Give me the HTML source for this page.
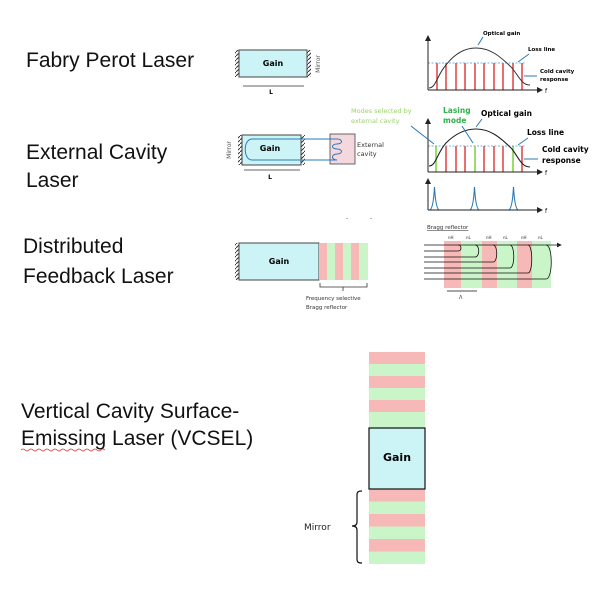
<!DOCTYPE html>
<html><head><meta charset="utf-8"><style>
body{margin:0;background:#fff;}
svg{display:block;}
.t{font-family:"Liberation Sans",sans-serif;font-size:21px;fill:#111;}
.s{font-family:"DejaVu Sans","Liberation Sans",sans-serif;}
</style></head><body>
<svg width="614" height="590" viewBox="0 0 614 590" xmlns="http://www.w3.org/2000/svg">
<defs>
<pattern id="h" width="4" height="4" patternUnits="userSpaceOnUse"><path d="M0 4L4 0" stroke="#333" stroke-width="1"/></pattern>
<marker id="a" markerWidth="6" markerHeight="6" refX="5" refY="3" orient="auto"><path d="M0 0L6 3L0 6z" fill="#222"/></marker>
</defs>
<text class="t" x="26" y="67">Fabry Perot Laser</text>
<text class="t" x="26" y="159">External Cavity</text>
<text class="t" x="26" y="187">Laser</text>
<text class="t" x="23" y="253">Distributed</text>
<text class="t" x="23" y="283">Feedback Laser</text>
<text class="t" x="21" y="418">Vertical Cavity Surface-</text>
<text class="t" x="21" y="445">Emissing Laser (VCSEL)</text>
<path d="M21 450q2-2 4 0t4 0t4 0t4 0t4 0t4 0t4 0t4 0t4 0t4 0t4 0t4 0t4 0t4 0t4 0t4 0t4 0t4 0t4 0t4 0t4 0" stroke="#d33" fill="none" stroke-width="0.8"/>

<!-- FP -->
<rect x="235" y="50" width="4" height="27" fill="url(#h)"/>
<rect x="307" y="50" width="4" height="27" fill="url(#h)"/>
<rect x="239" y="50" width="68" height="27" fill="#ccf4f6" stroke="#444"/>
<text class="s" x="273" y="66" font-size="8" font-weight="bold" text-anchor="middle">Gain</text>
<text class="s" x="320" y="64" font-size="6" fill="#555" transform="rotate(-90 320 64)" text-anchor="middle">Mirror</text>
<line x1="243" y1="86" x2="304" y2="86" stroke="#333" stroke-width="0.8"/>
<text class="s" x="271" y="94" font-size="6" font-weight="bold" text-anchor="middle">L</text>

<!-- graph 1 -->
<g stroke="#d22" stroke-width="1.3">
<line x1="437" y1="63" x2="437" y2="90"/><line x1="446" y1="63" x2="446" y2="90"/><line x1="456" y1="63" x2="456" y2="90"/><line x1="465" y1="63" x2="465" y2="90"/><line x1="475" y1="63" x2="475" y2="90"/><line x1="484" y1="63" x2="484" y2="90"/><line x1="494" y1="63" x2="494" y2="90"/><line x1="503" y1="63" x2="503" y2="90"/><line x1="513" y1="63" x2="513" y2="90"/><line x1="522" y1="63" x2="522" y2="90"/>
</g>
<line x1="428" y1="63" x2="525" y2="63" stroke="#4a9ad8" stroke-dasharray="2,1.5" stroke-width="0.8"/>
<path d="M429 88C436 88 437 75 446 65C456 52 466 48 476 48C490 48 500 56 512 68C520 78 522 85 530 85" stroke="#333" fill="none" stroke-width="1"/>
<line x1="428" y1="90" x2="428" y2="36" stroke="#222" marker-end="url(#a)"/>
<line x1="428" y1="90" x2="542" y2="90" stroke="#222" marker-end="url(#a)"/>
<text class="s" x="545" y="93" font-size="6">f</text>
<text class="s" x="483" y="35" font-size="5.5" font-weight="bold">Optical gain</text>
<line x1="483" y1="37" x2="478" y2="45" stroke="#2a7ab8"/>
<text class="s" x="528" y="51" font-size="5.5" font-weight="bold">Loss line</text>
<line x1="529" y1="54" x2="518" y2="62" stroke="#2a7ab8"/>
<text class="s" x="540" y="73" font-size="5.5" font-weight="bold">Cold cavity</text>
<text class="s" x="540" y="81" font-size="5.5" font-weight="bold">response</text>
<line x1="537" y1="76" x2="524" y2="76" stroke="#2a7ab8"/>

<!-- ECL -->
<rect x="238" y="135" width="4" height="30" fill="url(#h)"/>
<rect x="301" y="135" width="4" height="30" fill="url(#h)"/>
<rect x="242" y="135" width="59" height="30" fill="#ccf4f6" stroke="#444"/>
<rect x="330" y="134" width="25" height="30" fill="#f5d8dd" stroke="#444" stroke-width="0.8"/>
<path d="M305 139H252C243 139 243 160 252 160H305M305 139H337M305 160H337M337 139c6 0 6 5 0 5c-6 0-6 5 0 5c6 0 6 5 0 5c-6 0-6 6 0 6" stroke="#2a7ab8" fill="none" stroke-width="1"/>
<text class="s" x="270" y="151" font-size="8" font-weight="bold" text-anchor="middle">Gain</text>
<text class="s" x="357" y="147" font-size="6.5" fill="#333">External</text>
<text class="s" x="357" y="156" font-size="6.5" fill="#333">cavity</text>
<text class="s" x="231" y="150" font-size="6" fill="#555" transform="rotate(-90 231 150)" text-anchor="middle">Mirror</text>
<line x1="244" y1="170" x2="300" y2="170" stroke="#333" stroke-width="0.8"/>
<text class="s" x="270" y="179" font-size="6" font-weight="bold" text-anchor="middle">L</text>

<!-- graph 2 -->
<g stroke="#d22" stroke-width="1.3">
<line x1="446" y1="146" x2="446" y2="172"/><line x1="456" y1="146" x2="456" y2="172"/><line x1="465" y1="146" x2="465" y2="172"/><line x1="484" y1="146" x2="484" y2="172"/><line x1="494" y1="146" x2="494" y2="172"/><line x1="503" y1="146" x2="503" y2="172"/><line x1="522" y1="146" x2="522" y2="172"/>
</g>
<g stroke="#7ccf3a" stroke-width="1.5">
<line x1="436" y1="146" x2="436" y2="172"/><line x1="475" y1="146" x2="475" y2="172"/><line x1="513" y1="146" x2="513" y2="172"/>
</g>
<line x1="428" y1="146" x2="525" y2="146" stroke="#4a9ad8" stroke-dasharray="2,1.5" stroke-width="0.8"/>
<path d="M429 166C436 166 437 153 446 143C456 133 466 129 476 129C490 129 500 137 512 149C520 160 522 167 530 167" stroke="#222" fill="none" stroke-width="1.1"/>
<line x1="428" y1="172" x2="428" y2="119" stroke="#222" marker-end="url(#a)"/>
<line x1="428" y1="172" x2="542" y2="172" stroke="#222" marker-end="url(#a)"/>
<text class="s" x="545" y="175" font-size="6">f</text>
<text class="s" x="351" y="113" font-size="6.5" fill="#9ad36a">Modes selected by</text>
<text class="s" x="351" y="123" font-size="6.5" fill="#9ad36a">external cavity</text>
<line x1="411" y1="126" x2="434" y2="144" stroke="#2a7ab8"/>
<text class="s" x="443" y="113" font-size="7.5" font-weight="bold" fill="#2fb24a">Lasing</text>
<text class="s" x="443" y="123" font-size="7.5" font-weight="bold" fill="#2fb24a">mode</text>
<line x1="462" y1="126" x2="473" y2="143" stroke="#2a7ab8"/>
<text class="s" x="481" y="116" font-size="7.5" font-weight="bold">Optical gain</text>
<line x1="482" y1="119" x2="476" y2="127" stroke="#2a7ab8"/>
<text class="s" x="527" y="135" font-size="7.5" font-weight="bold">Loss line</text>
<line x1="528" y1="138" x2="518" y2="145" stroke="#2a7ab8"/>
<text class="s" x="542" y="152" font-size="7.5" font-weight="bold">Cold cavity</text>
<text class="s" x="542" y="163" font-size="7.5" font-weight="bold">response</text>
<line x1="538" y1="159" x2="524" y2="159" stroke="#2a7ab8"/>

<!-- graph 3 -->
<path d="M430 210C433 208 434 196 434.5 187C435 196 436 208 439 210M470 210C473 208 474 196 474.5 187C475 196 476 208 479 210M509 210C512 208 513 196 513.5 187C514 196 515 208 518 210" stroke="#2a7ab8" fill="none" stroke-width="1.1"/>
<line x1="428" y1="210" x2="428" y2="179" stroke="#222" marker-end="url(#a)"/>
<line x1="428" y1="210" x2="542" y2="210" stroke="#222" marker-end="url(#a)"/>
<text class="s" x="545" y="213" font-size="6">f</text>
<text x="346" y="220" font-size="6" fill="#333">-</text><text x="370" y="220" font-size="6" fill="#333">-</text>

<!-- DFB -->
<rect x="235" y="243" width="4" height="37" fill="url(#h)"/>
<rect x="239" y="243" width="80" height="37" fill="#ccf4f6" stroke="#444"/>
<text class="s" x="279" y="264" font-size="8" font-weight="bold" text-anchor="middle">Gain</text>
<rect x="319" y="243" width="8" height="37" fill="#f7b8b8"/><rect x="327" y="243" width="8" height="37" fill="#c9f5c9"/>
<rect x="335" y="243" width="8" height="37" fill="#f7b8b8"/><rect x="343" y="243" width="8" height="37" fill="#c9f5c9"/>
<rect x="351" y="243" width="8" height="37" fill="#f7b8b8"/><rect x="359" y="243" width="9" height="37" fill="#c9f5c9"/>
<path d="M320 283v4h23v4M343 287h24v-4" stroke="#333" fill="none" stroke-width="0.8"/>
<text class="s" x="306" y="300" font-size="5.5" fill="#333">Frequency selective</text>
<text class="s" x="306" y="309" font-size="5.5" fill="#333">Bragg reflector</text>

<!-- Bragg -->
<text class="s" x="427" y="229" font-size="5.5" fill="#333" text-decoration="underline">Bragg reflector</text>
<rect x="444" y="241" width="17" height="47" fill="#f7b8b8"/><rect x="461" y="241" width="21" height="47" fill="#c9f5c9"/>
<rect x="482" y="241" width="15" height="47" fill="#f7b8b8"/><rect x="497" y="241" width="20" height="47" fill="#c9f5c9"/>
<rect x="517" y="241" width="15" height="47" fill="#f7b8b8"/><rect x="532" y="241" width="19" height="47" fill="#c9f5c9"/>
<g font-size="4" fill="#333" class="s"><text x="448" y="239">nH</text><text x="466" y="239">nL</text><text x="486" y="239">nH</text><text x="503" y="239">nL</text><text x="521" y="239">nH</text><text x="538" y="239">nL</text></g>
<g stroke="#111" fill="none" stroke-width="0.8">
<line x1="424" y1="245" x2="561" y2="245" marker-end="url(#a)"/>
<path d="M458 245c4 0 4 6 0 6H424"/><path d="M475 245c5 0 5 12 0 12H424"/>
<path d="M493 245c5 0 5 17 0 17H424"/><path d="M510 245c5 0 5 23 0 23H424"/>
<path d="M528 245c5 0 5 28 0 28H424"/><path d="M546 245c7 0 7 34 0 34H424"/>
<line x1="447" y1="291" x2="477" y2="291"/>
</g>
<text class="s" x="459" y="299" font-size="5" fill="#333">Λ</text>

<!-- VCSEL -->
<g>
<rect x="369" y="352" width="56" height="12" fill="#f7b8b8"/><rect x="369" y="364" width="56" height="12" fill="#c9f5c9"/>
<rect x="369" y="376" width="56" height="12" fill="#f7b8b8"/><rect x="369" y="388" width="56" height="12" fill="#c9f5c9"/>
<rect x="369" y="400" width="56" height="12" fill="#f7b8b8"/><rect x="369" y="412" width="56" height="16" fill="#c9f5c9"/>
<rect x="369" y="489" width="56" height="12.5" fill="#f7b8b8"/><rect x="369" y="501.5" width="56" height="12.5" fill="#c9f5c9"/>
<rect x="369" y="514" width="56" height="12.5" fill="#f7b8b8"/><rect x="369" y="526.5" width="56" height="12.5" fill="#c9f5c9"/>
<rect x="369" y="539" width="56" height="12.5" fill="#f7b8b8"/><rect x="369" y="551.5" width="56" height="12.5" fill="#c9f5c9"/>
</g>
<rect x="369" y="428" width="56" height="61" fill="#ccf4f6" stroke="#111" stroke-width="1.2"/>
<text class="s" x="397" y="461" font-size="11" font-weight="bold" text-anchor="middle">Gain</text>
<path d="M362 491c-4 0-5 1-5 4v27c0 3-2 4-5 4c3 0 5 1 5 4v29c0 3 1 4 5 4" stroke="#111" fill="none" stroke-width="1.2"/>
<text class="s" x="304" y="530" font-size="9" fill="#222">Mirror</text>
</svg>
</body></html>
